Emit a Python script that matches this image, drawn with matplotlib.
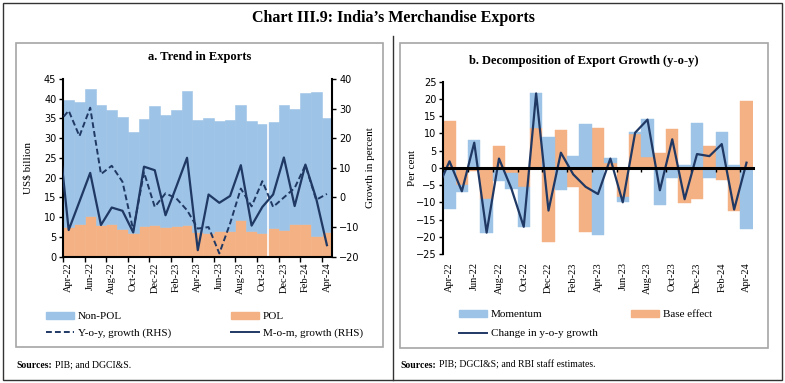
import matplotlib
matplotlib.use("Agg")
import matplotlib.pyplot as plt
import numpy as np
from matplotlib.patches import Rectangle, Patch
from matplotlib.lines import Line2D

# ---------------- data ----------------
months = ["Apr-22", "May-22", "Jun-22", "Jul-22", "Aug-22", "Sep-22", "Oct-22", "Nov-22",
          "Dec-22", "Jan-23", "Feb-23", "Mar-23", "Apr-23", "May-23", "Jun-23", "Jul-23",
          "Aug-23", "Sep-23", "Oct-23", "Nov-23", "Dec-23", "Jan-24", "Feb-24", "Mar-24", "Apr-24"]
line_months = ["Mar-22"] + months  # growth lines start one month earlier (clipped at axis)

pol = [7.6, 8.3, 10.4, 8.0, 8.3, 7.0, 5.9, 7.9, 8.0, 7.6, 7.8, 8.0, 6.3,
       5.9, 6.5, 6.5, 9.3, 6.5, 5.9, 7.3, 6.8, 8.4, 8.2, 5.3, 6.3]
non_pol = [32.1, 30.8, 32.1, 30.4, 28.9, 28.3, 25.7, 27.0, 30.2, 28.3, 29.4, 34.0, 28.3,
           29.2, 27.9, 28.1, 29.1, 27.9, 27.7, 26.7, 31.6, 29.0, 33.2, 36.3, 28.8]
yoy_growth = [25.0, 29.3, 20.7, 30.3, 7.9, 10.7, 5.3, -11.0, 8.5, -3.2, 1.4, -0.3, -4.3,
              -10.5, -10.0, -18.9, -8.8, 3.0, -3.0, 5.5, -3.2, 0.0, 3.2, 10.9, -0.8, 1.2]
mom_growth = [24.0, -11.0, -1.4, 8.3, -9.3, -3.4, -4.5, -11.8, 10.4, 9.2, -6.0, 3.6, 13.4,
              -17.8, 1.0, -1.8, 0.5, 10.9, -9.5, -3.2, 1.0, 13.5, -2.9, 11.1, -0.3, -16.1]

base_effect = [13.5, -5.0, -1.0, -8.9, 6.4, -1.4, -5.5, 11.6, -21.5, 10.9, -5.5, -18.6, 11.6,
               1.5, -8.4, 9.7, 3.2, 4.4, 11.2, -10.2, -9.1, 6.3, -3.6, -12.6, 19.3]
momentum = [-11.8, -1.9, 8.0, -9.9, -3.7, -4.6, -11.6, 10.0, 9.0, -6.3, 3.4, 12.6, -19.5,
            1.4, -1.6, 0.8, 10.9, -10.8, -2.9, 0.8, 12.9, -2.9, 10.3, 0.8, -17.8]
change_yoy = [-6.3, 1.9, -6.8, 7.3, -18.8, 2.7, -6.0, -17.1, 21.6, -12.4, 4.4, -1.9, -5.5,
              -7.6, 2.7, -10.0, 10.2, 14.0, -6.5, 8.3, -9.1, 4.0, 3.4, 6.9, -12.1, 1.5]

# ---------------- style ----------------
BLUE = "#9DC3E6"
ORANGE = "#F4B183"
NAVY = "#1F3864"
SERIF = ["Liberation Serif", "DejaVu Serif"]
SANS = ["DejaVu Sans"]
W, H = 785, 383

plt.rcParams["font.family"] = SERIF
fig = plt.figure(figsize=(W / 100, H / 100), dpi=100)


def fx(px):
    return px / W


def fy(py):
    return 1 - py / H


def box(x0, y0, x1, y1, **kw):
    fig.add_artist(Rectangle((fx(x0), fy(y1)), fx(x1) - fx(x0), fy(y0) - fy(y1),
                             transform=fig.transFigure, fill=False, **kw))


# outer frames
box(3, 3, 782, 380, edgecolor="#333333", lw=1.0)
fig.add_artist(Line2D([fx(393), fx(393)], [fy(36), fy(380)], transform=fig.transFigure,
                      color="#333333", lw=1.0))
box(16, 43, 383, 347, edgecolor="#A6A6A6", lw=1.2)
box(400, 43, 768, 348, edgecolor="#A6A6A6", lw=1.2)

fig.text(fx(393), fy(18), "Chart III.9: India\u2019s Merchandise Exports", ha="center", va="center",
         fontsize=11.5, weight="bold")
fig.text(fx(200), fy(57), "a. Trend in Exports", ha="center", va="center", fontsize=9, weight="bold")
fig.text(fx(584), fy(61), "b. Decomposition of Export Growth (y-o-y)", ha="center", va="center",
         fontsize=9, weight="bold")

# ---------------- panel a ----------------
x = np.arange(len(months))
xl = np.arange(-1, len(months))
ax1 = fig.add_axes([fx(63.3), fy(256.7), fx(332.3) - fx(63.3), fy(79) - fy(256.7)])
ax1.bar(x, pol, width=1.0, color=ORANGE, edgecolor=ORANGE, lw=0.4)
ax1.bar(x, non_pol, bottom=pol, width=1.0, color=BLUE, edgecolor=BLUE, lw=0.4)
ax1.axvline(18.5, color="white", lw=1.2)
ax1.set_xlim(-0.5, len(months) - 0.5)
ax1.set_ylim(0, 45)
ax1.set_yticks(np.arange(0, 46, 5))
ax1.set_xticks(x[::2])
ax1.set_xticklabels(months[::2], rotation=90, fontsize=7.5)
ax1.set_xticks(np.arange(-0.5, len(months), 2), minor=True)
ax1.tick_params(axis="x", which="major", length=0, pad=4)
ax1.tick_params(axis="x", which="minor", length=3.5, width=1, direction="out")
ax1.tick_params(axis="y", labelsize=7, length=3, width=1, pad=2)
for t in ax1.get_yticklabels():
    t.set_fontfamily(SANS)
for s in ["top", "right"]:
    ax1.spines[s].set_visible(False)
for s in ["left", "bottom"]:
    ax1.spines[s].set_linewidth(1.5)
ax1.set_ylabel(r"US\$ billion", fontsize=8)
ax1.yaxis.set_label_coords(-0.116, 0.5)

ax2 = ax1.twinx()
ax2.plot(xl, yoy_growth, color=NAVY, lw=1.4, ls=(0, (3, 1.6)))
ax2.plot(xl, mom_growth, color=NAVY, lw=1.6)
ax2.set_ylim(-20, 40)
ax2.set_yticks(np.arange(-20, 41, 10))
ax2.tick_params(axis="y", labelsize=7, length=3, width=1, pad=2)
for t in ax2.get_yticklabels():
    t.set_fontfamily(SANS)
for s in ["top", "left", "bottom"]:
    ax2.spines[s].set_visible(False)
ax2.spines["right"].set_linewidth(1.5)
ax2.set_ylabel("Growth in percent", fontsize=8)
ax2.yaxis.set_label_coords(1.125, 0.5)

# ---------------- panel b ----------------
base_arr = np.array(base_effect)
mom_arr = np.array(momentum)
mom_bottom = np.where(np.sign(mom_arr) == np.sign(base_arr), base_arr, 0.0)

ax3 = fig.add_axes([fx(443.3), fy(254), fx(752.7) - fx(443.3), fy(81.7) - fy(254)])
ax3.bar(x, base_arr, width=1.0, color=ORANGE, edgecolor=ORANGE, lw=0.3)
ax3.bar(x, mom_arr, bottom=mom_bottom, width=1.0, color=BLUE, edgecolor=BLUE, lw=0.3)
ax3.plot(xl, change_yoy, color=NAVY, lw=1.6, zorder=4)
ax3.set_xlim(-0.5, len(months) - 0.5)
ax3.set_ylim(-25, 25)
ax3.set_yticks(np.arange(-25, 26, 5))
ax3.tick_params(axis="y", labelsize=7, length=3, width=1, pad=2)
for t in ax3.get_yticklabels():
    t.set_fontfamily(SANS)
for s in ["top", "right"]:
    ax3.spines[s].set_visible(False)
ax3.spines["left"].set_linewidth(1.5)
ax3.spines["bottom"].set_position(("data", 0))
ax3.spines["bottom"].set_linewidth(2.2)
ax3.spines["bottom"].set_zorder(5)
ax3.set_xticks([])
ax3.set_xticks(np.arange(-0.5, len(months), 2), minor=True)
ax3.tick_params(axis="x", which="minor", length=3, width=1, direction="out")
sec = ax3.secondary_xaxis("bottom")
sec.set_xticks(x[::2])
sec.set_xticklabels(months[::2], rotation=90, fontsize=7.5)
sec.tick_params(axis="x", length=0, pad=6)
sec.spines["bottom"].set_visible(False)
ax3.set_ylabel("Per cent", fontsize=8)
ax3.yaxis.set_label_coords(-0.085, 0.5)

# ---------------- legends ----------------
leg_kw = dict(loc="upper left", bbox_transform=fig.transFigure, frameon=False, fontsize=8,
              borderpad=0, borderaxespad=0, handlelength=2.5, handletextpad=0.35,
              labelspacing=0.65, handleheight=0.6)
h_nonpol = Patch(facecolor=BLUE, edgecolor=BLUE)
h_pol = Patch(facecolor=ORANGE, edgecolor=ORANGE)
h_yoy = Line2D([], [], color=NAVY, lw=1.4, ls=(0, (3, 1.6)))
h_mom = Line2D([], [], color=NAVY, lw=1.4)
fig.legend([h_nonpol, h_yoy], ["Non-POL", "Y-o-y, growth (RHS)"],
           bbox_to_anchor=(fx(46), fy(312)), **leg_kw)
fig.legend([h_pol, h_mom], ["POL", "M-o-m, growth (RHS)"],
           bbox_to_anchor=(fx(231), fy(312)), **leg_kw)
h_momentum = Patch(facecolor=BLUE, edgecolor=BLUE)
h_base = Patch(facecolor=ORANGE, edgecolor=ORANGE)
h_change = Line2D([], [], color=NAVY, lw=1.4)
leg_kw_b = dict(leg_kw, labelspacing=0.85)
fig.legend([h_momentum, h_change], ["Momentum", "Change in y-o-y growth"],
           bbox_to_anchor=(fx(459), fy(310)), **leg_kw_b)
fig.legend([h_base], ["Base effect"], bbox_to_anchor=(fx(631), fy(310)), **leg_kw_b)

# ---------------- sources ----------------
def sources(x0, y0, rest):
    t = fig.text(fx(x0), fy(y0), "Sources:", fontsize=7, weight="bold", va="center", ha="left")
    fig.canvas.draw()
    bb = t.get_window_extent()
    fig.text(bb.x1 / W + 3 / W, fy(y0), rest, fontsize=7, va="center", ha="left")


sources(16, 365, "PIB; and DGCI&S.")
sources(400, 365, "PIB; DGCI&S; and RBI staff estimates.")

fig.savefig("out.png", dpi=100)
